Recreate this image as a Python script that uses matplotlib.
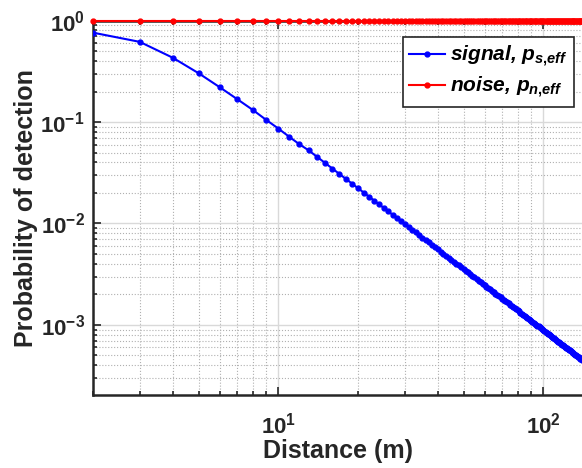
import matplotlib
matplotlib.use("Agg")
from matplotlib import pyplot as plt
from matplotlib.ticker import LogLocator, FixedLocator, FixedFormatter, NullFormatter

plt.rcParams['font.family'] = ['Liberation Sans', 'DejaVu Sans']
plt.rcParams['font.weight'] = 'bold'
plt.rcParams['mathtext.fontset'] = 'custom'
plt.rcParams['mathtext.rm'] = 'Liberation Sans:bold'
plt.rcParams['mathtext.it'] = 'Liberation Sans:italic:bold'
plt.rcParams['mathtext.bf'] = 'Liberation Sans:bold'

# distance in metres (every integer from 2 to 140)
distance = list(range(2, 141))

# signal detection probability
signal = [
    0.76, 0.617, 0.43, 0.303, 0.221, 0.168, 0.132, 0.105, 0.0863, 0.0715, 0.0605,
    0.0527, 0.0454, 0.0396, 0.0348, 0.0308, 0.0275, 0.0247, 0.0223, 0.0202, 0.0184,
    0.0168, 0.0155, 0.0142, 0.0132, 0.0122, 0.0114, 0.0106, 0.00989, 0.00926, 0.00869,
    0.00817, 0.00770, 0.00727, 0.00687, 0.00650, 0.00616, 0.00585, 0.00556, 0.00529,
    0.00505, 0.00481, 0.00460, 0.00440, 0.00421, 0.00403, 0.00386, 0.00371, 0.00356,
    0.00342, 0.00329, 0.00317, 0.00305, 0.00294, 0.00284, 0.00274, 0.00265, 0.00256,
    0.00247, 0.00239, 0.00232, 0.00224, 0.00217, 0.00211, 0.00204, 0.00198, 0.00192,
    0.00187, 0.00182, 0.00177, 0.00172, 0.00167, 0.00163, 0.00158, 0.00154, 0.00150,
    0.00146, 0.00143, 0.00139, 0.00136, 0.00132, 0.00129, 0.00126, 0.00123, 0.00120,
    0.00118, 0.00115, 0.00112, 0.00110, 0.00107, 0.00105, 0.00103, 0.00101, 0.000986,
    0.000966, 0.000946, 0.000927, 0.000908, 0.000890, 0.000872, 0.000855, 0.000839,
    0.000823, 0.000807, 0.000792, 0.000777, 0.000763, 0.000749, 0.000736, 0.000722,
    0.000710, 0.000697, 0.000685, 0.000673, 0.000661, 0.000650, 0.000639, 0.000628,
    0.000618, 0.000608, 0.000598, 0.000588, 0.000579, 0.000570, 0.000561, 0.000552,
    0.000543, 0.000535, 0.000527, 0.000519, 0.000511, 0.000503, 0.000496, 0.000488,
    0.000481, 0.000474, 0.000467, 0.000461, 0.000454,
]

# noise detection probability stays at 1 over the whole range
noise = [1.0] * len(distance)

xticks = [10, 100]
xtick_labels = [r'$\mathbf{10^{1}}$', r'$\mathbf{10^{2}}$']
yticks = [1e-3, 1e-2, 1e-1, 1e0]
ytick_labels = [r'$\mathbf{10^{-3}}$', r'$\mathbf{10^{-2}}$', r'$\mathbf{10^{-1}}$', r'$\mathbf{10^{0}}$']

fig = plt.figure(figsize=(5.82, 4.68), dpi=100)
ax = fig.add_axes([0.160, 0.156, 0.840, 0.800])

ax.plot(distance, signal, '-', color='#0000ff', lw=1.5, marker='.', ms=7,
        label=r'signal, $p_{s{,}eff}$', zorder=3)
ax.plot(distance, noise, '-', color='#ff0000', lw=1.5, marker='.', ms=7,
        label=r'noise, $p_{n{,}eff}$', zorder=4, clip_on=False)

ax.set_xscale('log')
ax.set_yscale('log')
ax.set_xlim(2, 140)
ax.set_ylim(2.04e-4, 1)

ax.xaxis.set_major_locator(FixedLocator(xticks))
ax.xaxis.set_major_formatter(FixedFormatter(xtick_labels))
ax.yaxis.set_major_locator(FixedLocator(yticks))
ax.yaxis.set_major_formatter(FixedFormatter(ytick_labels))
ax.xaxis.set_minor_locator(LogLocator(base=10, subs=range(2, 10), numticks=20))
ax.yaxis.set_minor_locator(LogLocator(base=10, subs=range(2, 10), numticks=20))
ax.xaxis.set_minor_formatter(NullFormatter())
ax.yaxis.set_minor_formatter(NullFormatter())

ax.grid(True, which='major', color='#d9d9d9', lw=1.0, ls='-')
ax.grid(True, which='minor', color='#b0b0b0', lw=0.8, ls=':')
ax.set_axisbelow(True)

ax.tick_params(which='both', direction='in', top=True, right=False,
               colors='#262626', labelsize=16, width=1.2)
ax.tick_params(which='major', length=6)
ax.tick_params(axis='x', which='major', pad=13)
ax.tick_params(axis='y', which='major', pad=6)
ax.tick_params(which='minor', length=3)

for side in ['left', 'bottom', 'top']:
    ax.spines[side].set_color('#262626')
    ax.spines[side].set_linewidth(1.8)
ax.spines['right'].set_visible(False)

ax.set_xlabel('Distance (m)', fontsize=18, fontweight='bold', color='#262626', labelpad=0)
ax.set_ylabel('Probability of detection', fontsize=18, fontweight='bold', color='#262626', labelpad=2)

leg = ax.legend(loc='upper right', bbox_to_anchor=(0.984, 0.955),
                prop={'size': 15, 'weight': 'bold', 'style': 'italic'},
                fancybox=False, framealpha=1, edgecolor='#262626',
                handlelength=1.7, borderpad=0.3, labelspacing=0.3, handletextpad=0.25,
                borderaxespad=0)
leg.get_frame().set_linewidth(1.2)

fig.savefig('out.png', dpi=100)
